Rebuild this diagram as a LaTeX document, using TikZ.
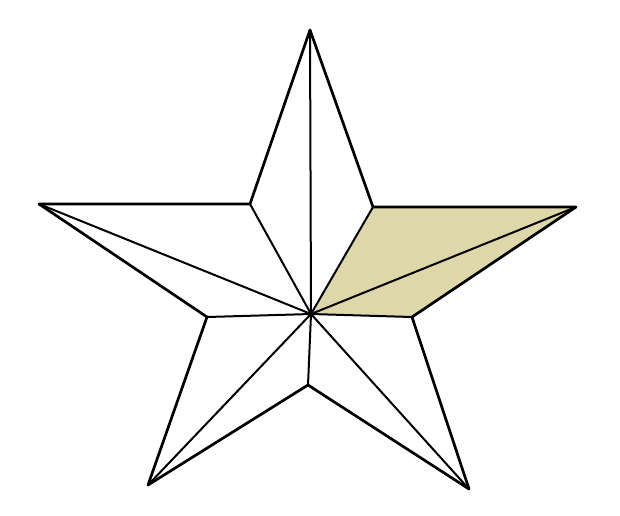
\documentclass[tikz,border=0pt]{standalone}
\definecolor{khaki}{RGB}{221,215,170}
\begin{document}
\begin{tikzpicture}[x=1pt,y=-1pt,
  outline/.style={line width=2.7pt,line join=round},
  inner/.style={line width=2pt}]
\useasboundingbox (0,0) rectangle (620,515);
\fill[white] (0,0) rectangle (620,515);
% outer points
\coordinate (T) at (310,30);
\coordinate (L) at (39,204);
\coordinate (R) at (576,207);
\coordinate (BL) at (148,485);
\coordinate (BR) at (469,489);
% inner points
\coordinate (iUL) at (250,204);
\coordinate (iUR) at (373,207);
\coordinate (iL) at (207,317);
\coordinate (iR) at (412,317);
\coordinate (iB) at (308,385);
\coordinate (C) at (311,314);
% shaded part
\fill[khaki] (iUR) -- (R) -- (iR) -- (C) -- cycle;
% inner lines
\foreach \p in {T,L,R,BL,BR,iUL,iUR,iL,iR,iB}
  \draw[inner] (C) -- (\p);
% outline
\draw[outline] (T) -- (iUR) -- (R) -- (iR) -- (BR) -- (iB) -- (BL) -- (iL) -- (L) -- (iUL) -- cycle;
\end{tikzpicture}
\end{document}
